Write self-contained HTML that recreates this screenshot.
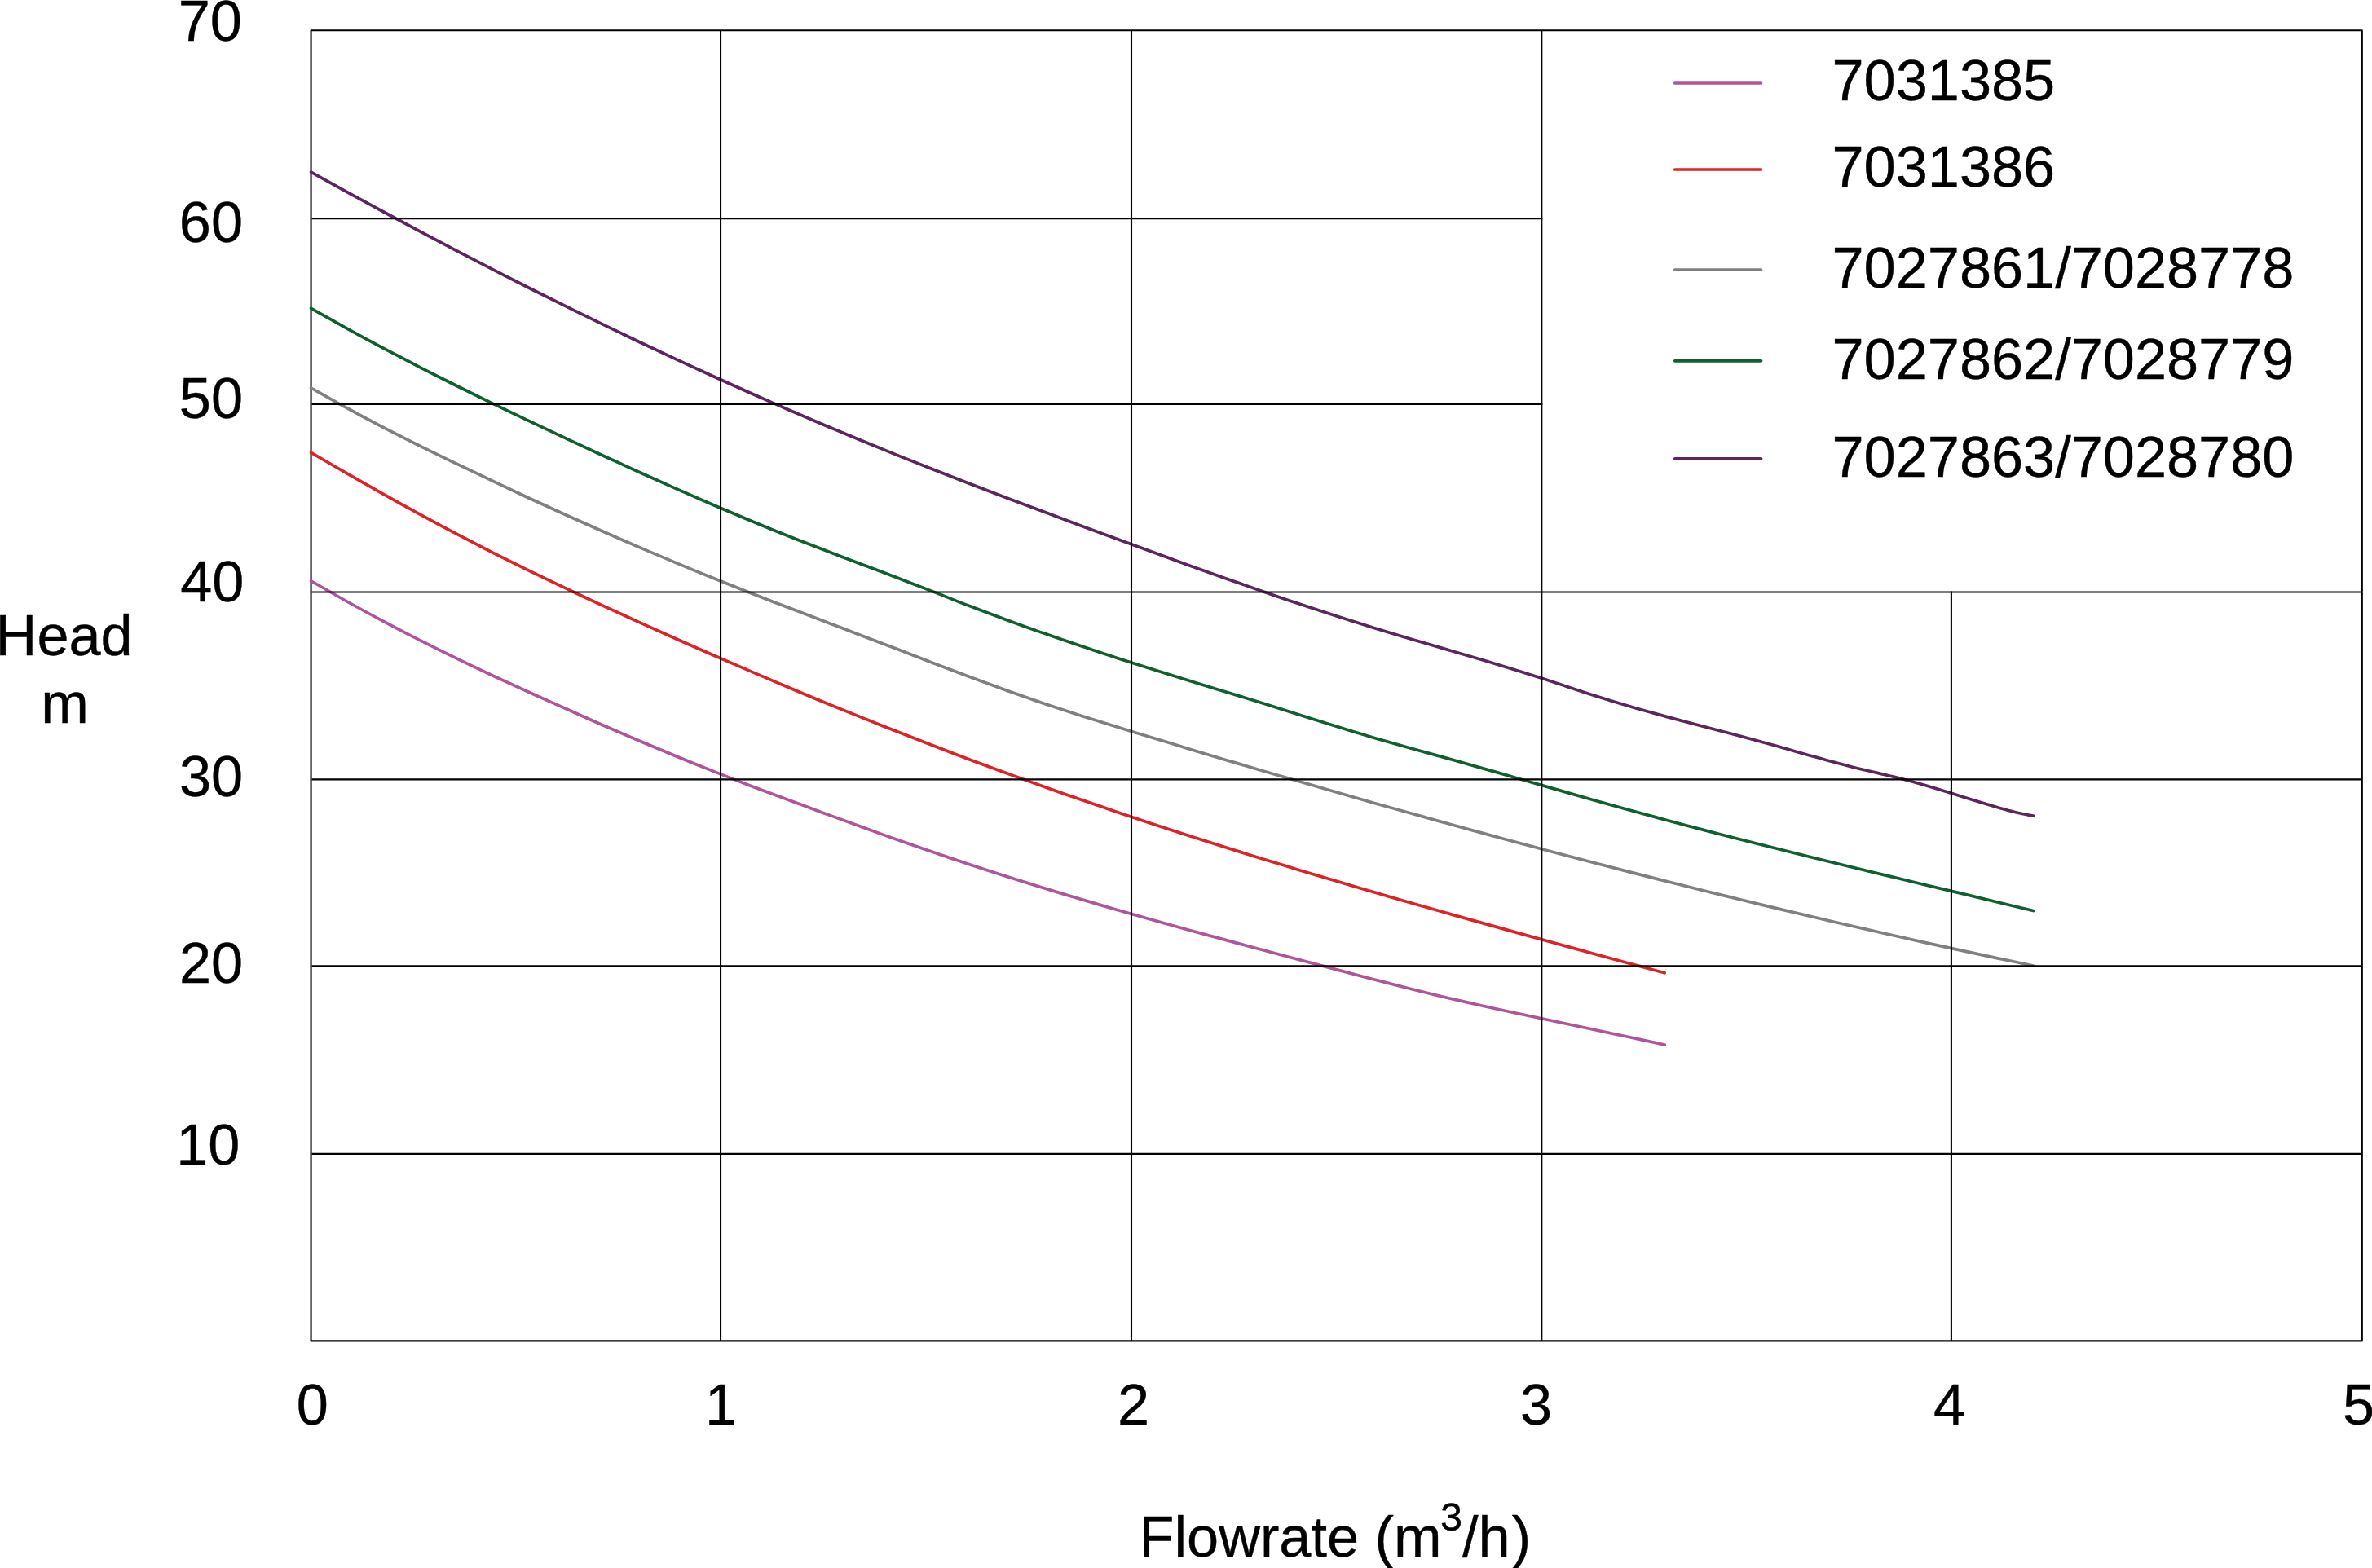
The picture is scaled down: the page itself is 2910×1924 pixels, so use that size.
<!DOCTYPE html>
<html lang="en">
<head>
<meta charset="utf-8">
<title>Pump performance curves – Head vs Flowrate</title>
<style>
html,body{margin:0;padding:0;background:#fff;}
body{width:2910px;height:1924px;overflow:hidden;}
svg{display:block;}
text{font-family:"Liberation Sans",sans-serif;font-size:70.3px;fill:#000;stroke:#000;stroke-width:0.4px;stroke-linejoin:round;}
.g{stroke:#000;stroke-width:2.1;fill:none;stroke-linecap:butt;stroke-linejoin:round;}
.c{fill:none;stroke-width:3.7;stroke-linecap:round;stroke-linejoin:round;}
</style>
</head>
<body>
<svg width="2910" height="1924" viewBox="0 0 2910 1924">
<rect x="0" y="0" width="2910" height="1924" fill="#fff"/>
<!-- outer frame (below the curves) -->
<rect class="g" x="381.55" y="37.2" width="2516.25" height="1608.2"/>
<!-- curves -->
<path class="c" stroke="#b0549b" d="M381.6 712.8C389.1 717.1 411.5 730.1 426.5 738.5C441.4 746.8 456.4 754.9 471.4 762.9C486.3 770.9 501.3 778.6 516.2 786.2C531.2 793.8 546.2 801.2 561.1 808.4C576.1 815.7 591.0 822.7 606.0 829.7C621.0 836.6 635.9 843.4 650.9 850.2C665.8 857.0 680.8 863.7 695.8 870.3C710.7 877.0 725.7 883.6 740.6 890.2C755.6 896.7 770.6 903.2 785.5 909.5C800.5 915.9 815.5 922.2 830.4 928.3C845.4 934.5 860.3 940.5 875.3 946.4C890.3 952.4 905.2 958.2 920.2 963.9C935.1 969.6 950.1 975.2 965.1 980.8C980.0 986.3 995.0 991.9 1009.9 997.4C1024.9 1002.9 1039.9 1008.4 1054.8 1013.8C1069.8 1019.3 1084.7 1024.7 1099.7 1030.0C1114.7 1035.3 1129.6 1040.5 1144.6 1045.6C1159.5 1050.8 1174.5 1055.8 1189.5 1060.8C1204.4 1065.7 1219.4 1070.6 1234.3 1075.3C1249.3 1080.1 1264.3 1084.7 1279.2 1089.3C1294.2 1093.9 1309.1 1098.4 1324.1 1102.8C1339.1 1107.3 1354.0 1111.7 1369.0 1116.0C1383.9 1120.3 1398.9 1124.5 1413.9 1128.7C1428.8 1132.9 1443.8 1137.1 1458.7 1141.2C1473.7 1145.3 1488.7 1149.4 1503.6 1153.4C1518.6 1157.5 1533.5 1161.5 1548.5 1165.5C1563.5 1169.5 1578.4 1173.5 1593.4 1177.5C1608.3 1181.4 1623.3 1185.4 1638.3 1189.4C1653.2 1193.3 1668.2 1197.3 1683.2 1201.2C1698.1 1205.1 1713.1 1208.9 1728.0 1212.7C1743.0 1216.4 1758.0 1220.1 1772.9 1223.7C1787.9 1227.2 1802.8 1230.6 1817.8 1234.0C1832.8 1237.3 1847.7 1240.6 1862.7 1243.8C1877.6 1247.0 1892.6 1250.1 1907.6 1253.3C1922.5 1256.5 1937.5 1259.6 1952.4 1262.8C1967.4 1266.0 1982.4 1269.1 1997.3 1272.3C2012.3 1275.5 2034.7 1280.4 2042.2 1282.0"/>
<path class="c" stroke="#de2228" d="M381.6 555.3C389.1 559.7 411.5 572.8 426.5 581.4C441.4 590.0 456.4 598.5 471.4 606.9C486.3 615.3 501.3 623.5 516.2 631.6C531.2 639.8 546.2 647.8 561.1 655.6C576.1 663.5 591.0 671.2 606.0 678.8C621.0 686.4 635.9 693.8 650.9 701.1C665.8 708.4 680.8 715.6 695.8 722.7C710.7 729.7 725.7 736.7 740.6 743.6C755.6 750.5 770.6 757.3 785.5 764.1C800.5 770.8 815.5 777.5 830.4 784.2C845.4 790.9 860.3 797.4 875.3 804.0C890.3 810.5 905.2 817.0 920.2 823.4C935.1 829.8 950.1 836.2 965.1 842.5C980.0 848.8 995.0 855.0 1009.9 861.2C1024.9 867.3 1039.9 873.4 1054.8 879.4C1069.8 885.5 1084.7 891.4 1099.7 897.3C1114.7 903.2 1129.6 909.1 1144.6 914.8C1159.5 920.6 1174.5 926.3 1189.5 931.9C1204.4 937.5 1219.4 943.1 1234.3 948.5C1249.3 954.0 1264.3 959.4 1279.2 964.7C1294.2 970.1 1309.1 975.3 1324.1 980.5C1339.1 985.7 1354.0 990.8 1369.0 995.9C1383.9 1000.9 1398.9 1005.9 1413.9 1010.9C1428.8 1015.8 1443.8 1020.7 1458.7 1025.5C1473.7 1030.3 1488.7 1035.0 1503.6 1039.8C1518.6 1044.5 1533.5 1049.1 1548.5 1053.7C1563.5 1058.3 1578.4 1062.9 1593.4 1067.4C1608.3 1071.9 1623.3 1076.4 1638.3 1080.8C1653.2 1085.3 1668.2 1089.7 1683.2 1094.0C1698.1 1098.4 1713.1 1102.7 1728.0 1107.0C1743.0 1111.3 1758.0 1115.6 1772.9 1119.8C1787.9 1124.0 1802.8 1128.2 1817.8 1132.4C1832.8 1136.6 1847.7 1140.7 1862.7 1144.9C1877.6 1149.0 1892.6 1153.1 1907.6 1157.2C1922.5 1161.3 1937.5 1165.4 1952.4 1169.5C1967.4 1173.6 1982.4 1177.6 1997.3 1181.7C2012.3 1185.7 2034.7 1191.8 2042.2 1193.8"/>
<path class="c" stroke="#808080" d="M381.6 476.0C389.1 480.2 411.6 493.1 426.6 501.2C441.5 509.4 456.5 517.3 471.5 525.1C486.5 532.8 501.5 540.4 516.5 547.8C531.5 555.2 546.4 562.5 561.4 569.7C576.4 577.0 591.4 584.1 606.4 591.2C621.4 598.2 636.3 605.3 651.3 612.2C666.3 619.1 681.3 626.0 696.3 632.7C711.3 639.5 726.3 646.2 741.2 652.8C756.2 659.4 771.2 665.9 786.2 672.4C801.2 678.8 816.2 685.2 831.2 691.4C846.1 697.6 861.1 703.8 876.1 709.8C891.1 715.9 906.1 721.8 921.1 727.7C936.0 733.6 951.0 739.4 966.0 745.1C981.0 750.9 996.0 756.6 1011.0 762.3C1026.0 768.0 1040.9 773.7 1055.9 779.4C1070.9 785.1 1085.9 790.9 1100.9 796.6C1115.9 802.4 1130.9 808.2 1145.8 813.9C1160.8 819.6 1175.8 825.4 1190.8 830.9C1205.8 836.5 1220.8 842.1 1235.8 847.5C1250.7 852.8 1265.7 858.1 1280.7 863.2C1295.7 868.2 1310.7 873.1 1325.7 877.9C1340.6 882.7 1355.6 887.3 1370.6 892.0C1385.6 896.6 1400.6 901.2 1415.6 905.8C1430.6 910.3 1445.5 914.9 1460.5 919.4C1475.5 923.9 1490.5 928.4 1505.5 932.9C1520.5 937.3 1535.5 941.8 1550.4 946.2C1565.4 950.6 1580.4 955.0 1595.4 959.3C1610.4 963.7 1625.4 968.0 1640.3 972.3C1655.3 976.6 1670.3 980.9 1685.3 985.2C1700.3 989.4 1715.3 993.6 1730.3 997.8C1745.2 1002.0 1760.2 1006.2 1775.2 1010.3C1790.2 1014.4 1805.2 1018.5 1820.2 1022.6C1835.2 1026.7 1850.1 1030.7 1865.1 1034.8C1880.1 1038.8 1895.1 1042.8 1910.1 1046.7C1925.1 1050.7 1940.1 1054.6 1955.0 1058.5C1970.0 1062.4 1985.0 1066.3 2000.0 1070.1C2015.0 1073.9 2030.0 1077.7 2044.9 1081.5C2059.9 1085.3 2074.9 1089.0 2089.9 1092.7C2104.9 1096.5 2119.9 1100.1 2134.9 1103.8C2149.8 1107.4 2164.8 1111.1 2179.8 1114.6C2194.8 1118.2 2209.8 1121.8 2224.8 1125.3C2239.8 1128.8 2254.7 1132.3 2269.7 1135.7C2284.7 1139.2 2299.7 1142.6 2314.7 1146.0C2329.7 1149.4 2344.6 1152.7 2359.6 1156.1C2374.6 1159.4 2389.6 1162.7 2404.6 1165.9C2419.6 1169.2 2434.6 1172.4 2449.5 1175.6C2464.5 1178.7 2487.0 1183.4 2494.5 1185.0"/>
<path class="c" stroke="#10602f" d="M381.6 378.3C389.1 382.5 411.6 395.3 426.6 403.6C441.5 411.8 456.5 419.9 471.5 427.9C486.5 435.8 501.5 443.6 516.5 451.3C531.5 459.0 546.4 466.5 561.4 474.0C576.4 481.5 591.4 488.8 606.4 496.1C621.4 503.4 636.3 510.5 651.3 517.7C666.3 524.8 681.3 531.8 696.3 538.8C711.3 545.8 726.3 552.8 741.2 559.7C756.2 566.6 771.2 573.5 786.2 580.2C801.2 587.0 816.2 593.7 831.2 600.4C846.1 607.0 861.1 613.5 876.1 620.0C891.1 626.4 906.1 632.8 921.1 639.0C936.0 645.2 951.0 651.3 966.0 657.3C981.0 663.3 996.0 669.1 1011.0 674.8C1026.0 680.6 1040.9 686.2 1055.9 691.9C1070.9 697.6 1085.9 703.2 1100.9 709.0C1115.9 714.7 1130.9 720.6 1145.8 726.4C1160.8 732.3 1175.8 738.4 1190.8 744.1C1205.8 749.9 1220.8 755.5 1235.8 761.0C1250.7 766.5 1265.7 771.9 1280.7 777.1C1295.7 782.4 1310.7 787.5 1325.7 792.5C1340.6 797.6 1355.6 802.5 1370.6 807.4C1385.6 812.2 1400.6 817.0 1415.6 821.7C1430.6 826.4 1445.5 831.1 1460.5 835.7C1475.5 840.4 1490.5 844.9 1505.5 849.5C1520.5 854.1 1535.5 858.6 1550.4 863.3C1565.4 867.9 1580.4 872.7 1595.4 877.4C1610.4 882.1 1625.4 887.0 1640.3 891.6C1655.3 896.3 1670.3 900.9 1685.3 905.2C1700.3 909.6 1715.3 913.8 1730.3 918.0C1745.2 922.2 1760.2 926.2 1775.2 930.4C1790.2 934.6 1805.2 938.8 1820.2 943.1C1835.2 947.3 1850.1 951.6 1865.1 956.0C1880.1 960.3 1895.1 964.6 1910.1 968.9C1925.1 973.2 1940.1 977.5 1955.0 981.8C1970.0 986.0 1985.0 990.2 2000.0 994.3C2015.0 998.4 2030.0 1002.5 2044.9 1006.5C2059.9 1010.5 2074.9 1014.4 2089.9 1018.4C2104.9 1022.3 2119.9 1026.1 2134.9 1030.0C2149.8 1033.8 2164.8 1037.6 2179.8 1041.3C2194.8 1045.1 2209.8 1048.8 2224.8 1052.5C2239.8 1056.2 2254.7 1059.8 2269.7 1063.5C2284.7 1067.1 2299.7 1070.8 2314.7 1074.4C2329.7 1078.0 2344.6 1081.6 2359.6 1085.2C2374.6 1088.8 2389.6 1092.4 2404.6 1095.9C2419.6 1099.5 2434.6 1103.1 2449.5 1106.7C2464.5 1110.3 2487.0 1115.7 2494.5 1117.5"/>
<path class="c" stroke="#5e2460" d="M381.6 211.2C389.1 215.3 411.6 227.8 426.6 236.1C441.6 244.3 456.5 252.4 471.5 260.5C486.5 268.6 501.5 276.7 516.5 284.6C531.5 292.6 546.5 300.5 561.5 308.3C576.4 316.1 591.4 323.9 606.4 331.6C621.4 339.3 636.4 346.9 651.4 354.5C666.4 362.0 681.4 369.5 696.3 376.9C711.3 384.3 726.3 391.6 741.3 398.9C756.3 406.2 771.3 413.4 786.3 420.5C801.3 427.6 816.3 434.6 831.2 441.6C846.2 448.6 861.2 455.5 876.2 462.3C891.2 469.1 906.2 475.8 921.2 482.5C936.2 489.1 951.1 495.7 966.1 502.2C981.1 508.7 996.1 515.1 1011.1 521.5C1026.1 527.8 1041.1 534.1 1056.1 540.3C1071.0 546.4 1086.0 552.5 1101.0 558.6C1116.0 564.6 1131.0 570.6 1146.0 576.5C1161.0 582.4 1176.0 588.2 1190.9 594.0C1205.9 599.8 1220.9 605.5 1235.9 611.2C1250.9 616.9 1265.9 622.5 1280.9 628.1C1295.9 633.8 1310.9 639.3 1325.8 644.9C1340.8 650.4 1355.8 656.0 1370.8 661.5C1385.8 667.0 1400.8 672.5 1415.8 678.0C1430.8 683.5 1445.7 688.9 1460.7 694.4C1475.7 699.8 1490.7 705.2 1505.7 710.5C1520.7 715.8 1535.7 721.1 1550.7 726.2C1565.6 731.4 1580.6 736.6 1595.6 741.6C1610.6 746.6 1625.6 751.5 1640.6 756.3C1655.6 761.1 1670.6 765.8 1685.6 770.4C1700.5 775.0 1715.5 779.5 1730.5 783.9C1745.5 788.3 1760.5 792.7 1775.5 797.1C1790.5 801.5 1805.5 805.8 1820.4 810.3C1835.4 814.8 1850.4 819.3 1865.4 824.0C1880.4 828.7 1895.4 833.6 1910.4 838.4C1925.4 843.3 1940.3 848.5 1955.3 853.2C1970.3 858.0 1985.3 862.6 2000.3 867.0C2015.3 871.4 2030.3 875.5 2045.3 879.6C2060.2 883.6 2075.2 887.5 2090.2 891.5C2105.2 895.4 2120.2 899.3 2135.2 903.3C2150.2 907.3 2165.2 911.4 2180.2 915.5C2195.1 919.7 2210.1 924.2 2225.1 928.3C2240.1 932.5 2255.1 936.7 2270.1 940.5C2285.1 944.3 2304.1 948.6 2315.0 951.2C2325.9 953.9 2327.2 954.1 2335.5 956.3C2343.8 958.5 2355.3 961.7 2365.0 964.5C2374.7 967.4 2383.9 970.2 2393.9 973.3C2403.9 976.4 2415.0 979.9 2425.0 983.0C2435.0 986.0 2445.8 989.3 2454.1 991.7C2462.4 994.0 2468.2 995.7 2475.0 997.3C2481.8 998.9 2491.6 1000.6 2494.9 1001.3"/>
<!-- inner grid lines (above the curves) -->
<g class="g">
<line x1="884.05" y1="37.2" x2="884.05" y2="1645.4"/>
<line x1="1388" y1="37.2" x2="1388" y2="1645.4"/>
<line x1="1891.3" y1="37.2" x2="1891.3" y2="1645.4"/>
<line x1="2393.9" y1="725.5" x2="2393.9" y2="1645.4"/>
<line x1="382.6" y1="268.15" x2="1892.35" y2="268.15"/>
<line x1="382.6" y1="496" x2="1892.35" y2="496"/>
<line x1="382.6" y1="726.55" x2="2897.8" y2="726.55"/>
<line x1="382.6" y1="956.4" x2="2897.8" y2="956.4"/>
<line x1="382.6" y1="1185.4" x2="2897.8" y2="1185.4"/>
<line x1="382.6" y1="1415.9" x2="2897.8" y2="1415.9"/>
</g>
<!-- legend -->
<line class="c" stroke="#b0549b" x1="2054.75" y1="102" x2="2160.55" y2="102"/>
<text x="2247.5" y="123">7031385</text>
<line class="c" stroke="#de2228" x1="2054.75" y1="208" x2="2160.55" y2="208"/>
<text x="2247.5" y="229">7031386</text>
<line class="c" stroke="#808080" x1="2054.75" y1="331" x2="2160.55" y2="331"/>
<text x="2247.5" y="353">7027861/7028778</text>
<line class="c" stroke="#10602f" x1="2054.75" y1="442.85" x2="2160.55" y2="442.85"/>
<text x="2247.5" y="465">7027862/7028779</text>
<line class="c" stroke="#5e2460" x1="2054.75" y1="562.85" x2="2160.55" y2="562.85"/>
<text x="2247.5" y="585">7027863/7028780</text>
<!-- y axis labels -->
<text x="218.7" y="50">70</text>
<text x="219.8" y="297">60</text>
<text x="219.8" y="513">50</text>
<text x="221.2" y="738">40</text>
<text x="219.9" y="977">30</text>
<text x="220" y="1206">20</text>
<text x="216.2" y="1429">10</text>
<text x="-5.4" y="804">Head</text>
<text x="50.2" y="887">m</text>
<!-- x axis labels -->
<text x="363.8" y="1748">0</text>
<text x="865" y="1748">1</text>
<text x="1371.1" y="1748">2</text>
<text x="1864.9" y="1748">3</text>
<text x="2371.9" y="1748">4</text>
<text x="2873.9" y="1748">5</text>
<text x="1397.5" y="1910">Flowrate (m<tspan font-size="48.5" dx="-1.5" dy="-32">3</tspan><tspan dx="-0.1" dy="32">/h</tspan><tspan dx="2.2">)</tspan></text>
</svg>
</body>
</html>
